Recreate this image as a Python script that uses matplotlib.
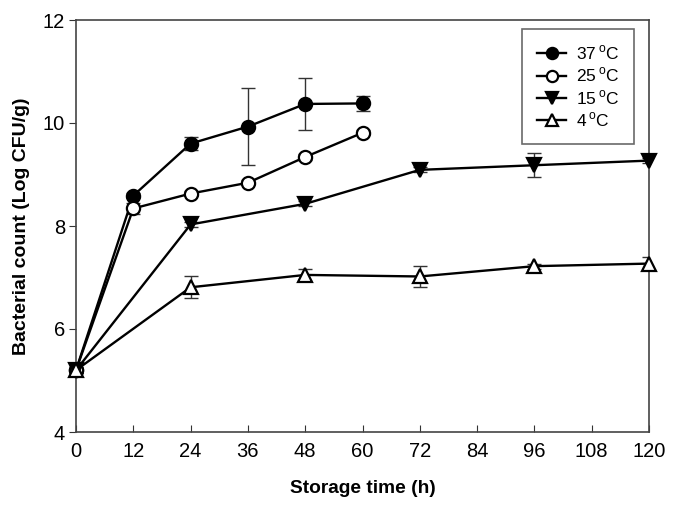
import matplotlib
matplotlib.use("Agg")
import matplotlib.pyplot as plt

plt.rcParams['font.family'] = ['Liberation Sans', 'DejaVu Sans']
plt.rcParams['mathtext.fontset'] = 'custom'
plt.rcParams['mathtext.rm'] = 'Liberation Sans'

labels = [r'37$\,^{\rm o}$C', r'25$\,^{\rm o}$C', r'15$\,^{\rm o}$C', r'4$\,^{\rm o}$C']

t37 = [0, 12, 24, 36, 48, 60]
y37 = [5.20, 8.59, 9.60, 9.93, 10.37, 10.38]
e37 = [0.05, 0.05, 0.12, 0.75, 0.50, 0.15]

t25 = [0, 12, 24, 36, 48, 60]
y25 = [5.20, 8.34, 8.63, 8.84, 9.34, 9.81]
e25 = [0.05, 0.10, 0.05, 0.05, 0.05, 0.05]

t15 = [0, 24, 48, 72, 96, 120]
y15 = [5.20, 8.03, 8.43, 9.09, 9.18, 9.27]
e15 = [0.05, 0.05, 0.05, 0.05, 0.23, 0.05]

t4 = [0, 24, 48, 72, 96, 120]
y4 = [5.20, 6.81, 7.05, 7.02, 7.22, 7.27]
e4 = [0.05, 0.21, 0.12, 0.20, 0.05, 0.12]

xticks = [0, 12, 24, 36, 48, 60, 72, 84, 96, 108, 120]
yticks = [4, 6, 8, 10, 12]

fig = plt.figure(figsize=(6.77, 5.09), dpi=100)
ax = fig.add_axes([76/677, 1-432/509, (649-76)/677, (432-20)/509])

series = [
    (t37, y37, e37, 'o', 'black', labels[0]),
    (t25, y25, e25, 'o', 'white', labels[1]),
    (t15, y15, e15, 'v', 'black', labels[2]),
    (t4, y4, e4, '^', 'white', labels[3]),
]
for t, y, e, m, fc, lab in series:
    ax.errorbar(t, y, yerr=e, fmt='none', ecolor='#333333', elinewidth=1.0,
                capsize=5, capthick=1.0, zorder=2)
    ax.plot(t, y, marker=m, markersize=9.5, markerfacecolor=fc,
            markeredgecolor='black', markeredgewidth=1.6, color='black',
            linewidth=1.7, label=lab, zorder=3, clip_on=False)

ax.set_xlim(0, 120)
ax.set_ylim(4, 12)
ax.set_xticks(xticks)
ax.set_yticks(yticks)
ax.tick_params(axis='x', direction='in', length=5, labelsize=14.5, pad=7, color='#333333')
ax.tick_params(axis='y', direction='out', length=5, labelsize=14.5, pad=3, color='#333333')
for s in ax.spines.values():
    s.set_color('#444444')
    s.set_linewidth(1.2)

ax.set_xlabel('Storage time (h)', fontsize=13.8, fontweight='bold', labelpad=14)
ax.set_ylabel('Bacterial count (Log CFU/g)', fontsize=14, fontweight='bold', labelpad=9)

leg = ax.legend(loc='upper right', bbox_to_anchor=(0.974, 0.978), fontsize=12.5,
                frameon=True, fancybox=False, edgecolor='#444444',
                handlelength=1.7, handletextpad=0.55, labelspacing=0.2,
                borderpad=0.85, borderaxespad=0.0, markerscale=0.85)
leg.get_frame().set_linewidth(1.2)

fig.savefig('out.png', dpi=100)
